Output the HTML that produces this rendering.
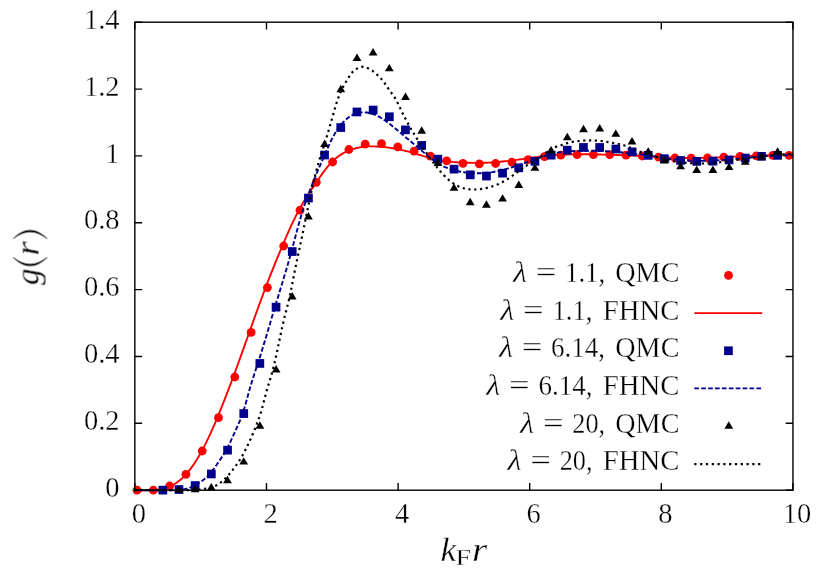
<!DOCTYPE html>
<html><head><meta charset="utf-8"><title>g(r)</title>
<style>html,body{margin:0;padding:0;background:#fff;}svg{display:block;}text{font-family:"Liberation Serif",serif;fill:#000;stroke:#fff;stroke-width:0.32px;}</style></head>
<body>
<svg width="830" height="582" viewBox="0 0 830 582">
<rect width="830" height="582" fill="#fff"/>
<path d="M134.8,490.2 v-7.3 M134.8,22.2 v7.3 M266.5,490.2 v-7.3 M266.5,22.2 v7.3 M398.1,490.2 v-7.3 M398.1,22.2 v7.3 M529.7,490.2 v-7.3 M529.7,22.2 v7.3 M661.3,490.2 v-7.3 M661.3,22.2 v7.3 M793.0,490.2 v-7.3 M793.0,22.2 v7.3 M134.85,490.2 h7.3 M792.95,490.2 h-7.3 M134.85,423.3 h7.3 M792.95,423.3 h-7.3 M134.85,356.5 h7.3 M792.95,356.5 h-7.3 M134.85,289.6 h7.3 M792.95,289.6 h-7.3 M134.85,222.8 h7.3 M792.95,222.8 h-7.3 M134.85,155.9 h7.3 M792.95,155.9 h-7.3 M134.85,89.1 h7.3 M792.95,89.1 h-7.3 M134.85,22.2 h7.3 M792.95,22.2 h-7.3" stroke="#000" stroke-width="1.4" fill="none"/>
<g><circle cx="137.0" cy="490.2" r="4.4" fill="#ff0000"/><circle cx="153.3" cy="490.2" r="4.4" fill="#ff0000"/><circle cx="169.6" cy="486.0" r="4.4" fill="#ff0000"/><circle cx="185.9" cy="474.3" r="4.4" fill="#ff0000"/><circle cx="202.2" cy="451.0" r="4.4" fill="#ff0000"/><circle cx="218.5" cy="417.7" r="4.4" fill="#ff0000"/><circle cx="234.8" cy="377.0" r="4.4" fill="#ff0000"/><circle cx="251.1" cy="332.4" r="4.4" fill="#ff0000"/><circle cx="267.4" cy="287.6" r="4.4" fill="#ff0000"/><circle cx="283.7" cy="246.0" r="4.4" fill="#ff0000"/><circle cx="300.0" cy="210.2" r="4.4" fill="#ff0000"/><circle cx="316.3" cy="182.3" r="4.4" fill="#ff0000"/><circle cx="332.6" cy="162.0" r="4.4" fill="#ff0000"/><circle cx="348.9" cy="149.5" r="4.4" fill="#ff0000"/><circle cx="365.2" cy="144.2" r="4.4" fill="#ff0000"/><circle cx="381.5" cy="143.7" r="4.4" fill="#ff0000"/><circle cx="397.8" cy="146.8" r="4.4" fill="#ff0000"/><circle cx="414.1" cy="151.1" r="4.4" fill="#ff0000"/><circle cx="430.4" cy="156.2" r="4.4" fill="#ff0000"/><circle cx="446.7" cy="160.8" r="4.4" fill="#ff0000"/><circle cx="463.0" cy="163.3" r="4.4" fill="#ff0000"/><circle cx="479.3" cy="163.9" r="4.4" fill="#ff0000"/><circle cx="495.6" cy="163.5" r="4.4" fill="#ff0000"/><circle cx="511.9" cy="162.1" r="4.4" fill="#ff0000"/><circle cx="528.2" cy="159.6" r="4.4" fill="#ff0000"/><circle cx="544.5" cy="156.7" r="4.4" fill="#ff0000"/><circle cx="560.8" cy="155.1" r="4.4" fill="#ff0000"/><circle cx="577.1" cy="154.6" r="4.4" fill="#ff0000"/><circle cx="593.4" cy="154.6" r="4.4" fill="#ff0000"/><circle cx="609.7" cy="154.6" r="4.4" fill="#ff0000"/><circle cx="626.0" cy="155.1" r="4.4" fill="#ff0000"/><circle cx="642.3" cy="156.0" r="4.4" fill="#ff0000"/><circle cx="658.6" cy="157.2" r="4.4" fill="#ff0000"/><circle cx="674.9" cy="158.0" r="4.4" fill="#ff0000"/><circle cx="691.2" cy="158.2" r="4.4" fill="#ff0000"/><circle cx="707.5" cy="158.0" r="4.4" fill="#ff0000"/><circle cx="723.8" cy="157.2" r="4.4" fill="#ff0000"/><circle cx="740.1" cy="156.3" r="4.4" fill="#ff0000"/><circle cx="756.4" cy="155.8" r="4.4" fill="#ff0000"/><circle cx="772.7" cy="155.3" r="4.4" fill="#ff0000"/><circle cx="789.0" cy="155.3" r="4.4" fill="#ff0000"/></g>
<path d="M134.5,490.2 L136.5,490.2 L138.5,490.2 L140.5,490.2 L142.5,490.2 L144.5,490.2 L146.5,490.2 L148.5,490.2 L150.5,490.2 L152.5,490.2 L154.5,490.1 L156.5,489.9 L158.5,489.6 L160.5,489.3 L162.5,488.9 L164.5,488.4 L166.5,487.8 L168.5,487.0 L170.5,486.2 L172.5,485.2 L174.5,484.0 L176.5,482.7 L178.5,481.3 L180.5,479.7 L182.5,477.9 L184.5,475.9 L186.5,473.7 L188.5,471.4 L190.5,468.8 L192.5,466.1 L194.5,463.2 L196.5,460.1 L198.5,456.8 L200.5,453.4 L202.5,449.7 L204.5,445.9 L206.5,441.8 L208.5,437.7 L210.5,433.3 L212.5,428.9 L214.5,424.3 L216.5,419.6 L218.5,414.8 L220.5,409.9 L222.5,404.9 L224.5,399.9 L226.5,394.7 L228.5,389.5 L230.5,384.2 L232.5,378.9 L234.5,373.5 L236.5,368.0 L238.5,362.5 L240.5,357.0 L242.5,351.4 L244.5,345.9 L246.5,340.3 L248.5,334.6 L250.5,329.0 L252.5,323.4 L254.5,317.8 L256.5,312.3 L258.5,306.8 L260.5,301.3 L262.5,295.9 L264.5,290.5 L266.5,285.2 L268.5,280.0 L270.5,274.9 L272.5,269.8 L274.5,264.9 L276.5,259.9 L278.5,255.1 L280.5,250.3 L282.5,245.5 L284.5,240.8 L286.5,236.2 L288.5,231.7 L290.5,227.2 L292.5,222.9 L294.5,218.8 L296.5,214.7 L298.5,210.9 L300.5,207.2 L302.5,203.7 L304.5,200.3 L306.5,197.1 L308.5,193.9 L310.5,190.9 L312.5,187.9 L314.5,184.9 L316.5,182.0 L318.5,179.0 L320.5,176.2 L322.5,173.4 L324.5,170.7 L326.5,168.1 L328.5,165.7 L330.5,163.5 L332.5,161.4 L334.5,159.6 L336.5,157.8 L338.5,156.3 L340.5,154.9 L342.5,153.6 L344.5,152.5 L346.5,151.6 L348.5,150.7 L350.5,149.9 L352.5,149.2 L354.5,148.6 L356.5,148.0 L358.5,147.6 L360.5,147.2 L362.5,146.9 L364.5,146.6 L366.5,146.5 L368.5,146.4 L370.5,146.4 L372.5,146.4 L374.5,146.4 L376.5,146.5 L378.5,146.6 L380.5,146.7 L382.5,146.9 L384.5,147.1 L386.5,147.3 L388.5,147.6 L390.5,147.9 L392.5,148.2 L394.5,148.5 L396.5,148.9 L398.5,149.3 L400.5,149.7 L402.5,150.2 L404.5,150.7 L406.5,151.1 L408.5,151.7 L410.5,152.2 L412.5,152.8 L414.5,153.4 L416.5,154.0 L418.5,154.6 L420.5,155.2 L422.5,155.8 L424.5,156.4 L426.5,157.0 L428.5,157.5 L430.5,158.1 L432.5,158.6 L434.5,159.1 L436.5,159.5 L438.5,159.9 L440.5,160.3 L442.5,160.7 L444.5,161.0 L446.5,161.2 L448.5,161.5 L450.5,161.7 L452.5,161.9 L454.5,162.1 L456.5,162.2 L458.5,162.4 L460.5,162.5 L462.5,162.6 L464.5,162.7 L466.5,162.8 L468.5,162.8 L470.5,162.8 L472.5,162.9 L474.5,162.9 L476.5,162.9 L478.5,162.9 L480.5,162.9 L482.5,162.8 L484.5,162.7 L486.5,162.7 L488.5,162.6 L490.5,162.5 L492.5,162.3 L494.5,162.2 L496.5,162.1 L498.5,161.9 L500.5,161.7 L502.5,161.5 L504.5,161.3 L506.5,161.1 L508.5,160.9 L510.5,160.6 L512.5,160.4 L514.5,160.1 L516.5,159.9 L518.5,159.6 L520.5,159.3 L522.5,159.1 L524.5,158.8 L526.5,158.5 L528.5,158.2 L530.5,157.9 L532.5,157.6 L534.5,157.3 L536.5,157.1 L538.5,156.8 L540.5,156.5 L542.5,156.3 L544.5,156.1 L546.5,155.9 L548.5,155.6 L550.5,155.5 L552.5,155.3 L554.5,155.1 L556.5,155.0 L558.5,154.9 L560.5,154.8 L562.5,154.7 L564.5,154.6 L566.5,154.5 L568.5,154.5 L570.5,154.4 L572.5,154.4 L574.5,154.3 L576.5,154.3 L578.5,154.3 L580.5,154.3 L582.5,154.3 L584.5,154.3 L586.5,154.3 L588.5,154.3 L590.5,154.3 L592.5,154.3 L594.5,154.4 L596.5,154.4 L598.5,154.5 L600.5,154.5 L602.5,154.6 L604.5,154.6 L606.5,154.7 L608.5,154.7 L610.5,154.8 L612.5,154.8 L614.5,154.9 L616.5,155.0 L618.5,155.0 L620.5,155.1 L622.5,155.2 L624.5,155.3 L626.5,155.3 L628.5,155.4 L630.5,155.5 L632.5,155.6 L634.5,155.6 L636.5,155.7 L638.5,155.8 L640.5,155.9 L642.5,156.0 L644.5,156.1 L646.5,156.3 L648.5,156.4 L650.5,156.5 L652.5,156.6 L654.5,156.7 L656.5,156.9 L658.5,157.0 L660.5,157.1 L662.5,157.2 L664.5,157.3 L666.5,157.4 L668.5,157.5 L670.5,157.6 L672.5,157.7 L674.5,157.8 L676.5,157.8 L678.5,157.9 L680.5,157.9 L682.5,158.0 L684.5,158.0 L686.5,158.0 L688.5,158.0 L690.5,158.0 L692.5,158.0 L694.5,158.0 L696.5,158.0 L698.5,158.0 L700.5,157.9 L702.5,157.9 L704.5,157.9 L706.5,157.8 L708.5,157.8 L710.5,157.7 L712.5,157.7 L714.5,157.6 L716.5,157.5 L718.5,157.4 L720.5,157.4 L722.5,157.3 L724.5,157.2 L726.5,157.0 L728.5,156.9 L730.5,156.8 L732.5,156.7 L734.5,156.6 L736.5,156.5 L738.5,156.4 L740.5,156.3 L742.5,156.2 L744.5,156.1 L746.5,156.1 L748.5,156.0 L750.5,155.9 L752.5,155.9 L754.5,155.8 L756.5,155.8 L758.5,155.7 L760.5,155.7 L762.5,155.6 L764.5,155.6 L766.5,155.5 L768.5,155.5 L770.5,155.4 L772.5,155.4 L774.5,155.4 L776.5,155.4 L778.5,155.4 L780.5,155.4 L782.5,155.4 L784.5,155.4 L786.5,155.4 L788.5,155.4 L790.5,155.5 L792.5,155.5" stroke="#ff0000" stroke-width="1.9" fill="none" stroke-linejoin="round"/>
<g><rect x="158.5" y="485.8" width="8.7" height="8.7" fill="#00008b"/><rect x="174.6" y="485.2" width="8.7" height="8.7" fill="#00008b"/><rect x="190.8" y="481.2" width="8.7" height="8.7" fill="#00008b"/><rect x="207.0" y="469.6" width="8.7" height="8.7" fill="#00008b"/><rect x="223.2" y="445.8" width="8.7" height="8.7" fill="#00008b"/><rect x="239.4" y="409.2" width="8.7" height="8.7" fill="#00008b"/><rect x="255.5" y="359.1" width="8.7" height="8.7" fill="#00008b"/><rect x="271.7" y="302.8" width="8.7" height="8.7" fill="#00008b"/><rect x="287.9" y="247.2" width="8.7" height="8.7" fill="#00008b"/><rect x="304.1" y="193.7" width="8.7" height="8.7" fill="#00008b"/><rect x="320.2" y="150.7" width="8.7" height="8.7" fill="#00008b"/><rect x="336.4" y="123.2" width="8.7" height="8.7" fill="#00008b"/><rect x="352.6" y="107.6" width="8.7" height="8.7" fill="#00008b"/><rect x="368.8" y="105.7" width="8.7" height="8.7" fill="#00008b"/><rect x="385.0" y="112.4" width="8.7" height="8.7" fill="#00008b"/><rect x="401.1" y="125.5" width="8.7" height="8.7" fill="#00008b"/><rect x="417.3" y="141.1" width="8.7" height="8.7" fill="#00008b"/><rect x="433.5" y="154.8" width="8.7" height="8.7" fill="#00008b"/><rect x="449.7" y="164.8" width="8.7" height="8.7" fill="#00008b"/><rect x="465.9" y="170.5" width="8.7" height="8.7" fill="#00008b"/><rect x="482.1" y="171.7" width="8.7" height="8.7" fill="#00008b"/><rect x="498.2" y="168.8" width="8.7" height="8.7" fill="#00008b"/><rect x="514.4" y="163.5" width="8.7" height="8.7" fill="#00008b"/><rect x="530.6" y="157.0" width="8.7" height="8.7" fill="#00008b"/><rect x="546.8" y="150.8" width="8.7" height="8.7" fill="#00008b"/><rect x="562.9" y="145.8" width="8.7" height="8.7" fill="#00008b"/><rect x="579.1" y="143.1" width="8.7" height="8.7" fill="#00008b"/><rect x="595.3" y="143.1" width="8.7" height="8.7" fill="#00008b"/><rect x="611.5" y="144.7" width="8.7" height="8.7" fill="#00008b"/><rect x="627.7" y="147.5" width="8.7" height="8.7" fill="#00008b"/><rect x="643.9" y="151.0" width="8.7" height="8.7" fill="#00008b"/><rect x="660.0" y="154.3" width="8.7" height="8.7" fill="#00008b"/><rect x="676.2" y="156.1" width="8.7" height="8.7" fill="#00008b"/><rect x="692.4" y="157.0" width="8.7" height="8.7" fill="#00008b"/><rect x="708.6" y="156.8" width="8.7" height="8.7" fill="#00008b"/><rect x="724.7" y="155.6" width="8.7" height="8.7" fill="#00008b"/><rect x="740.9" y="153.7" width="8.7" height="8.7" fill="#00008b"/><rect x="757.1" y="152.0" width="8.7" height="8.7" fill="#00008b"/><rect x="773.3" y="151.0" width="8.7" height="8.7" fill="#00008b"/></g>
<path d="M134.5,490.2 L136.5,490.2 L138.5,490.2 L140.5,490.2 L142.5,490.2 L144.5,490.2 L146.5,490.2 L148.5,490.2 L150.5,490.2 L152.5,490.2 L154.5,490.2 L156.5,490.2 L158.5,490.2 L160.5,490.2 L162.5,490.2 L164.5,490.2 L166.5,490.2 L168.5,490.2 L170.5,490.2 L172.5,490.2 L174.5,490.1 L176.5,490.1 L178.5,490.0 L180.5,489.8 L182.5,489.5 L184.5,489.2 L186.5,488.7 L188.5,488.1 L190.5,487.4 L192.5,486.6 L194.5,485.6 L196.5,484.5 L198.5,483.4 L200.5,482.0 L202.5,480.6 L204.5,479.0 L206.5,477.2 L208.5,475.2 L210.5,473.0 L212.5,470.6 L214.5,467.8 L216.5,465.0 L218.5,462.0 L220.5,459.1 L222.5,456.1 L224.5,453.0 L226.5,449.6 L228.5,445.8 L230.5,441.7 L232.5,437.3 L234.5,432.8 L236.5,428.4 L238.5,423.9 L240.5,419.3 L242.5,414.0 L244.5,407.8 L246.5,400.7 L248.5,393.3 L250.5,386.2 L252.5,379.7 L254.5,373.5 L256.5,367.4 L258.5,361.3 L260.5,355.1 L262.5,348.6 L264.5,342.1 L266.5,335.4 L268.5,328.7 L270.5,322.0 L272.5,315.2 L274.5,308.5 L276.5,301.9 L278.5,295.4 L280.5,288.8 L282.5,282.3 L284.5,275.6 L286.5,268.9 L288.5,262.0 L290.5,254.9 L292.5,247.6 L294.5,240.1 L296.5,232.5 L298.5,225.1 L300.5,218.0 L302.5,211.2 L304.5,205.0 L306.5,199.4 L308.5,194.0 L310.5,188.8 L312.5,183.6 L314.5,178.6 L316.5,173.7 L318.5,169.0 L320.5,164.5 L322.5,160.0 L324.5,155.5 L326.5,151.0 L328.5,146.4 L330.5,141.9 L332.5,137.8 L334.5,134.1 L336.5,130.8 L338.5,127.9 L340.5,125.3 L342.5,123.0 L344.5,120.9 L346.5,119.0 L348.5,117.4 L350.5,116.0 L352.5,114.9 L354.5,114.0 L356.5,113.3 L358.5,112.8 L360.5,112.5 L362.5,112.4 L364.5,112.4 L366.5,112.5 L368.5,112.8 L370.5,113.3 L372.5,113.8 L374.5,114.5 L376.5,115.4 L378.5,116.4 L380.5,117.5 L382.5,118.8 L384.5,120.1 L386.5,121.6 L388.5,123.1 L390.5,124.6 L392.5,126.2 L394.5,127.9 L396.5,129.5 L398.5,131.2 L400.5,132.8 L402.5,134.5 L404.5,136.2 L406.5,137.9 L408.5,139.5 L410.5,141.2 L412.5,142.9 L414.5,144.5 L416.5,146.2 L418.5,147.9 L420.5,149.6 L422.5,151.4 L424.5,153.1 L426.5,154.8 L428.5,156.5 L430.5,158.1 L432.5,159.6 L434.5,161.1 L436.5,162.5 L438.5,163.7 L440.5,164.9 L442.5,165.9 L444.5,166.9 L446.5,167.7 L448.5,168.5 L450.5,169.2 L452.5,169.9 L454.5,170.4 L456.5,170.9 L458.5,171.3 L460.5,171.7 L462.5,172.0 L464.5,172.3 L466.5,172.5 L468.5,172.7 L470.5,172.9 L472.5,173.0 L474.5,173.1 L476.5,173.2 L478.5,173.2 L480.5,173.2 L482.5,173.1 L484.5,173.0 L486.5,172.8 L488.5,172.6 L490.5,172.4 L492.5,172.1 L494.5,171.7 L496.5,171.3 L498.5,170.9 L500.5,170.5 L502.5,170.0 L504.5,169.5 L506.5,168.9 L508.5,168.3 L510.5,167.8 L512.5,167.1 L514.5,166.5 L516.5,165.9 L518.5,165.2 L520.5,164.5 L522.5,163.9 L524.5,163.2 L526.5,162.5 L528.5,161.7 L530.5,161.0 L532.5,160.3 L534.5,159.5 L536.5,158.8 L538.5,158.0 L540.5,157.3 L542.5,156.6 L544.5,156.0 L546.5,155.3 L548.5,154.7 L550.5,154.2 L552.5,153.7 L554.5,153.2 L556.5,152.8 L558.5,152.5 L560.5,152.1 L562.5,151.9 L564.5,151.7 L566.5,151.5 L568.5,151.3 L570.5,151.2 L572.5,151.1 L574.5,151.0 L576.5,150.9 L578.5,150.9 L580.5,150.8 L582.5,150.7 L584.5,150.7 L586.5,150.7 L588.5,150.7 L590.5,150.7 L592.5,150.7 L594.5,150.8 L596.5,150.8 L598.5,150.9 L600.5,151.0 L602.5,151.1 L604.5,151.2 L606.5,151.3 L608.5,151.4 L610.5,151.5 L612.5,151.6 L614.5,151.8 L616.5,151.9 L618.5,152.1 L620.5,152.3 L622.5,152.5 L624.5,152.7 L626.5,153.0 L628.5,153.2 L630.5,153.4 L632.5,153.7 L634.5,153.9 L636.5,154.0 L638.5,154.2 L640.5,154.4 L642.5,154.6 L644.5,154.8 L646.5,155.1 L648.5,155.3 L650.5,155.7 L652.5,156.0 L654.5,156.4 L656.5,156.8 L658.5,157.2 L660.5,157.5 L662.5,157.9 L664.5,158.2 L666.5,158.5 L668.5,158.8 L670.5,159.1 L672.5,159.3 L674.5,159.5 L676.5,159.7 L678.5,159.8 L680.5,160.0 L682.5,160.1 L684.5,160.3 L686.5,160.4 L688.5,160.5 L690.5,160.6 L692.5,160.7 L694.5,160.7 L696.5,160.8 L698.5,160.8 L700.5,160.9 L702.5,160.9 L704.5,160.8 L706.5,160.8 L708.5,160.8 L710.5,160.7 L712.5,160.6 L714.5,160.5 L716.5,160.4 L718.5,160.3 L720.5,160.2 L722.5,160.0 L724.5,159.9 L726.5,159.7 L728.5,159.5 L730.5,159.4 L732.5,159.2 L734.5,159.0 L736.5,158.8 L738.5,158.6 L740.5,158.4 L742.5,158.3 L744.5,158.1 L746.5,157.9 L748.5,157.7 L750.5,157.5 L752.5,157.3 L754.5,157.1 L756.5,156.9 L758.5,156.7 L760.5,156.6 L762.5,156.4 L764.5,156.3 L766.5,156.1 L768.5,156.0 L770.5,155.8 L772.5,155.7 L774.5,155.6 L776.5,155.5 L778.5,155.5 L780.5,155.4 L782.5,155.4 L784.5,155.3 L786.5,155.3 L788.5,155.3 L790.5,155.3 L792.5,155.3" stroke="#00008b" stroke-width="1.9" fill="none" stroke-dasharray="4.7 2.2"/>
<g><path d="M179.0,485.4 L183.4,492.8 L174.6,492.8Z" fill="#000"/><path d="M195.2,484.8 L199.6,492.2 L190.8,492.2Z" fill="#000"/><path d="M211.3,483.1 L215.7,490.5 L206.9,490.5Z" fill="#000"/><path d="M227.5,475.8 L231.9,483.2 L223.1,483.2Z" fill="#000"/><path d="M243.7,457.2 L248.1,464.6 L239.3,464.6Z" fill="#000"/><path d="M259.9,421.3 L264.3,428.7 L255.5,428.7Z" fill="#000"/><path d="M276.1,365.1 L280.5,372.5 L271.7,372.5Z" fill="#000"/><path d="M292.2,292.1 L296.6,299.5 L287.8,299.5Z" fill="#000"/><path d="M308.4,212.1 L312.8,219.5 L304.0,219.5Z" fill="#000"/><path d="M324.6,139.6 L329.0,147.0 L320.2,147.0Z" fill="#000"/><path d="M340.8,84.8 L345.2,92.2 L336.4,92.2Z" fill="#000"/><path d="M357.0,53.5 L361.4,60.9 L352.6,60.9Z" fill="#000"/><path d="M373.1,48.0 L377.5,55.4 L368.7,55.4Z" fill="#000"/><path d="M389.3,63.9 L393.7,71.3 L384.9,71.3Z" fill="#000"/><path d="M405.5,92.5 L409.9,99.9 L401.1,99.9Z" fill="#000"/><path d="M421.7,126.3 L426.1,133.7 L417.3,133.7Z" fill="#000"/><path d="M437.9,158.5 L442.3,165.9 L433.5,165.9Z" fill="#000"/><path d="M454.0,183.4 L458.4,190.8 L449.6,190.8Z" fill="#000"/><path d="M470.2,197.8 L474.6,205.2 L465.8,205.2Z" fill="#000"/><path d="M486.4,200.3 L490.8,207.7 L482.0,207.7Z" fill="#000"/><path d="M502.6,194.2 L507.0,201.6 L498.2,201.6Z" fill="#000"/><path d="M518.8,180.5 L523.2,187.9 L514.4,187.9Z" fill="#000"/><path d="M534.9,163.4 L539.3,170.8 L530.5,170.8Z" fill="#000"/><path d="M551.1,146.0 L555.5,153.4 L546.7,153.4Z" fill="#000"/><path d="M567.3,132.8 L571.7,140.2 L562.9,140.2Z" fill="#000"/><path d="M583.5,124.8 L587.9,132.2 L579.1,132.2Z" fill="#000"/><path d="M599.7,124.1 L604.1,131.5 L595.3,131.5Z" fill="#000"/><path d="M615.8,129.4 L620.2,136.8 L611.4,136.8Z" fill="#000"/><path d="M632.0,137.1 L636.4,144.5 L627.6,144.5Z" fill="#000"/><path d="M648.2,147.2 L652.6,154.6 L643.8,154.6Z" fill="#000"/><path d="M664.4,156.2 L668.8,163.6 L660.0,163.6Z" fill="#000"/><path d="M680.6,161.9 L685.0,169.3 L676.2,169.3Z" fill="#000"/><path d="M696.7,165.6 L701.1,173.0 L692.3,173.0Z" fill="#000"/><path d="M712.9,165.6 L717.3,173.0 L708.5,173.0Z" fill="#000"/><path d="M729.1,162.7 L733.5,170.1 L724.7,170.1Z" fill="#000"/><path d="M745.3,157.4 L749.7,164.8 L740.9,164.8Z" fill="#000"/><path d="M761.5,152.1 L765.9,159.5 L757.1,159.5Z" fill="#000"/><path d="M777.6,147.2 L782.0,154.6 L773.2,154.6Z" fill="#000"/></g>
<path d="M134.5,490.2 L136.5,490.2 L138.5,490.2 L140.5,490.2 L142.5,490.2 L144.5,490.2 L146.5,490.1 L148.5,490.1 L150.5,490.1 L152.5,490.1 L154.5,490.1 L156.5,490.1 L158.5,490.1 L160.5,490.1 L162.5,490.1 L164.5,490.1 L166.5,490.1 L168.5,490.1 L170.5,490.1 L172.5,490.1 L174.5,490.1 L176.5,490.1 L178.5,490.1 L180.5,490.2 L182.5,490.2 L184.5,490.2 L186.5,490.2 L188.5,490.2 L190.5,490.2 L192.5,490.2 L194.5,490.1 L196.5,489.9 L198.5,489.7 L200.5,489.4 L202.5,489.1 L204.5,488.8 L206.5,488.4 L208.5,488.1 L210.5,487.6 L212.5,487.0 L214.5,486.3 L216.5,485.3 L218.5,484.0 L220.5,482.6 L222.5,481.0 L224.5,479.2 L226.5,477.2 L228.5,475.1 L230.5,472.7 L232.5,470.2 L234.5,467.5 L236.5,464.8 L238.5,461.9 L240.5,458.8 L242.5,455.4 L244.5,451.7 L246.5,447.8 L248.5,443.6 L250.5,439.3 L252.5,434.7 L254.5,429.9 L256.5,424.8 L258.5,419.5 L260.5,413.5 L262.5,406.6 L264.5,399.0 L266.5,391.4 L268.5,384.6 L270.5,378.1 L272.5,371.2 L274.5,363.2 L276.5,354.2 L278.5,344.6 L280.5,335.0 L282.5,325.8 L284.5,317.3 L286.5,309.6 L288.5,301.7 L290.5,292.7 L292.5,282.7 L294.5,272.4 L296.5,262.5 L298.5,253.1 L300.5,243.8 L302.5,234.2 L304.5,224.5 L306.5,214.7 L308.5,205.0 L310.5,195.5 L312.5,186.4 L314.5,177.8 L316.5,170.0 L318.5,162.9 L320.5,156.4 L322.5,150.2 L324.5,144.0 L326.5,137.6 L328.5,130.9 L330.5,123.9 L332.5,116.8 L334.5,109.8 L336.5,103.2 L338.5,97.3 L340.5,92.2 L342.5,88.0 L344.5,84.4 L346.5,81.0 L348.5,77.7 L350.5,74.5 L352.5,72.0 L354.5,70.2 L356.5,68.9 L358.5,67.8 L360.5,67.0 L362.5,66.7 L364.5,66.9 L366.5,67.6 L368.5,68.5 L370.5,69.6 L372.5,70.8 L374.5,72.3 L376.5,74.1 L378.5,76.0 L380.5,78.0 L382.5,80.3 L384.5,83.0 L386.5,85.9 L388.5,88.8 L390.5,91.7 L392.5,94.4 L394.5,97.2 L396.5,100.6 L398.5,104.6 L400.5,108.9 L402.5,113.0 L404.5,117.0 L406.5,120.8 L408.5,124.4 L410.5,128.0 L412.5,131.4 L414.5,134.7 L416.5,137.9 L418.5,141.1 L420.5,144.2 L422.5,147.2 L424.5,150.2 L426.5,153.1 L428.5,156.0 L430.5,158.8 L432.5,161.5 L434.5,164.1 L436.5,166.7 L438.5,169.2 L440.5,171.6 L442.5,173.8 L444.5,175.9 L446.5,177.9 L448.5,179.7 L450.5,181.3 L452.5,182.8 L454.5,184.2 L456.5,185.3 L458.5,186.4 L460.5,187.2 L462.5,187.9 L464.5,188.5 L466.5,188.9 L468.5,189.2 L470.5,189.4 L472.5,189.5 L474.5,189.5 L476.5,189.5 L478.5,189.3 L480.5,189.1 L482.5,188.8 L484.5,188.5 L486.5,188.0 L488.5,187.5 L490.5,187.0 L492.5,186.3 L494.5,185.6 L496.5,184.8 L498.5,184.0 L500.5,183.0 L502.5,182.0 L504.5,180.9 L506.5,179.7 L508.5,178.5 L510.5,177.1 L512.5,175.7 L514.5,174.2 L516.5,172.8 L518.5,171.3 L520.5,169.8 L522.5,168.3 L524.5,166.9 L526.5,165.6 L528.5,164.3 L530.5,163.1 L532.5,161.9 L534.5,160.7 L536.5,159.5 L538.5,158.3 L540.5,156.9 L542.5,155.4 L544.5,153.8 L546.5,152.2 L548.5,150.7 L550.5,149.3 L552.5,148.2 L554.5,147.3 L556.5,146.6 L558.5,146.0 L560.5,145.4 L562.5,144.7 L564.5,144.1 L566.5,143.4 L568.5,142.8 L570.5,142.3 L572.5,141.9 L574.5,141.6 L576.5,141.3 L578.5,141.1 L580.5,140.9 L582.5,140.7 L584.5,140.5 L586.5,140.4 L588.5,140.4 L590.5,140.4 L592.5,140.4 L594.5,140.5 L596.5,140.6 L598.5,140.8 L600.5,141.0 L602.5,141.2 L604.5,141.5 L606.5,141.8 L608.5,142.1 L610.5,142.5 L612.5,142.9 L614.5,143.3 L616.5,143.7 L618.5,144.0 L620.5,144.5 L622.5,144.9 L624.5,145.5 L626.5,146.1 L628.5,146.9 L630.5,147.8 L632.5,148.7 L634.5,149.6 L636.5,150.4 L638.5,151.2 L640.5,151.9 L642.5,152.7 L644.5,153.4 L646.5,154.0 L648.5,154.7 L650.5,155.3 L652.5,156.0 L654.5,156.6 L656.5,157.1 L658.5,157.7 L660.5,158.2 L662.5,158.8 L664.5,159.2 L666.5,159.7 L668.5,160.2 L670.5,160.6 L672.5,161.0 L674.5,161.3 L676.5,161.7 L678.5,162.0 L680.5,162.3 L682.5,162.5 L684.5,162.7 L686.5,162.9 L688.5,163.1 L690.5,163.2 L692.5,163.4 L694.5,163.4 L696.5,163.5 L698.5,163.5 L700.5,163.5 L702.5,163.5 L704.5,163.5 L706.5,163.4 L708.5,163.3 L710.5,163.2 L712.5,163.0 L714.5,162.9 L716.5,162.7 L718.5,162.4 L720.5,162.2 L722.5,162.0 L724.5,161.7 L726.5,161.4 L728.5,161.2 L730.5,160.9 L732.5,160.6 L734.5,160.3 L736.5,160.0 L738.5,159.7 L740.5,159.4 L742.5,159.1 L744.5,158.8 L746.5,158.5 L748.5,158.2 L750.5,157.9 L752.5,157.6 L754.5,157.3 L756.5,157.0 L758.5,156.7 L760.5,156.4 L762.5,156.2 L764.5,155.9 L766.5,155.7 L768.5,155.4 L770.5,155.2 L772.5,155.0 L774.5,154.8 L776.5,154.7 L778.5,154.5 L780.5,154.4 L782.5,154.3 L784.5,154.2 L786.5,154.1 L788.5,154.0 L790.5,154.0 L792.5,153.9" stroke="#000" stroke-width="2.2" fill="none" stroke-dasharray="2.2 3.6"/>
<rect x="134.85" y="22.2" width="658.1" height="468.0" fill="none" stroke="#000" stroke-width="1.4"/>
<g style="filter:grayscale(1)">
<text x="119.5" y="496.8" font-size="28.5" text-anchor="end">0</text><text x="119.5" y="429.9" font-size="28.5" text-anchor="end">0.2</text><text x="119.5" y="363.1" font-size="28.5" text-anchor="end">0.4</text><text x="119.5" y="296.2" font-size="28.5" text-anchor="end">0.6</text><text x="119.5" y="229.4" font-size="28.5" text-anchor="end">0.8</text><text x="119.5" y="162.5" font-size="28.5" text-anchor="end">1</text><text x="119.5" y="95.7" font-size="28.5" text-anchor="end">1.2</text><text x="119.5" y="28.8" font-size="28.5" text-anchor="end">1.4</text>
<text x="138.8" y="522.5" font-size="28.5" text-anchor="middle">0</text><text x="270.5" y="522.5" font-size="28.5" text-anchor="middle">2</text><text x="402.1" y="522.5" font-size="28.5" text-anchor="middle">4</text><text x="533.7" y="522.5" font-size="28.5" text-anchor="middle">6</text><text x="665.3" y="522.5" font-size="28.5" text-anchor="middle">8</text><text x="797.0" y="522.5" font-size="28.5" text-anchor="middle">10</text>
<text x="440.6" y="560.5" font-size="33" font-style="italic" textLength="15.8" lengthAdjust="spacingAndGlyphs">k</text><text x="455.6" y="565.3" font-size="22.5" textLength="15.6" lengthAdjust="spacingAndGlyphs">F</text><text x="472.0" y="560.5" font-size="33" font-style="italic" textLength="15.2" lengthAdjust="spacingAndGlyphs">r</text>
<g transform="translate(38.7,284.5) rotate(-90)"><text x="-0.5" y="0" font-size="33" font-style="italic">g</text><text x="29" y="0" font-size="33" font-style="italic" textLength="14.2" lengthAdjust="spacingAndGlyphs">r</text><path d="M26.7,-25.4 Q10.1,-8.5 26.7,8.4 L27.5,8.4 Q13.5,-8.5 27.5,-25.4 Z"/><path d="M46.2,-25.4 Q62.8,-8.5 46.2,8.4 L45.4,8.4 Q59.4,-8.5 45.4,-25.4 Z"/></g>
<text x="512.9" y="282.1" font-size="28.5" textLength="14.1" lengthAdjust="spacingAndGlyphs" font-style="italic">λ</text><text x="535.7" y="282.1" font-size="28.5" textLength="20.7" lengthAdjust="spacingAndGlyphs">=</text><text x="565.1" y="282.1" font-size="28.5" textLength="40.0" lengthAdjust="spacingAndGlyphs">1.1,</text><text x="615.3" y="282.1" font-size="28.5" textLength="64.1" lengthAdjust="spacingAndGlyphs">QMC</text>
<text x="500.3" y="319.8" font-size="28.5" textLength="14.1" lengthAdjust="spacingAndGlyphs" font-style="italic">λ</text><text x="523.1" y="319.8" font-size="28.5" textLength="20.7" lengthAdjust="spacingAndGlyphs">=</text><text x="552.5" y="319.8" font-size="28.5" textLength="40.0" lengthAdjust="spacingAndGlyphs">1.1,</text><text x="602.7" y="319.8" font-size="28.5" textLength="76.7" lengthAdjust="spacingAndGlyphs">FHNC</text>
<text x="498.9" y="357.4" font-size="28.5" textLength="14.1" lengthAdjust="spacingAndGlyphs" font-style="italic">λ</text><text x="521.7" y="357.4" font-size="28.5" textLength="20.7" lengthAdjust="spacingAndGlyphs">=</text><text x="551.1" y="357.4" font-size="28.5" textLength="54.0" lengthAdjust="spacingAndGlyphs">6.14,</text><text x="615.3" y="357.4" font-size="28.5" textLength="64.1" lengthAdjust="spacingAndGlyphs">QMC</text>
<text x="486.3" y="395.1" font-size="28.5" textLength="14.1" lengthAdjust="spacingAndGlyphs" font-style="italic">λ</text><text x="509.1" y="395.1" font-size="28.5" textLength="20.7" lengthAdjust="spacingAndGlyphs">=</text><text x="538.5" y="395.1" font-size="28.5" textLength="54.0" lengthAdjust="spacingAndGlyphs">6.14,</text><text x="602.7" y="395.1" font-size="28.5" textLength="76.7" lengthAdjust="spacingAndGlyphs">FHNC</text>
<text x="520.1" y="432.7" font-size="28.5" textLength="14.1" lengthAdjust="spacingAndGlyphs" font-style="italic">λ</text><text x="542.9" y="432.7" font-size="28.5" textLength="20.7" lengthAdjust="spacingAndGlyphs">=</text><text x="572.3" y="432.7" font-size="28.5" textLength="32.8" lengthAdjust="spacingAndGlyphs">20,</text><text x="615.3" y="432.7" font-size="28.5" textLength="64.1" lengthAdjust="spacingAndGlyphs">QMC</text>
<text x="507.5" y="470.4" font-size="28.5" textLength="14.1" lengthAdjust="spacingAndGlyphs" font-style="italic">λ</text><text x="530.3" y="470.4" font-size="28.5" textLength="20.7" lengthAdjust="spacingAndGlyphs">=</text><text x="559.7" y="470.4" font-size="28.5" textLength="32.8" lengthAdjust="spacingAndGlyphs">20,</text><text x="602.7" y="470.4" font-size="28.5" textLength="76.7" lengthAdjust="spacingAndGlyphs">FHNC</text>
</g>
<circle cx="728.5" cy="275.4" r="4.4" fill="#ff0000"/><path d="M694.3,313.1 H762.2" stroke="#ff0000" stroke-width="1.9"/><rect x="724.1" y="346.4" width="8.7" height="8.7" fill="#00008b"/><path d="M694.3,388.4 H762.2" stroke="#00008b" stroke-width="1.9" stroke-dasharray="4.7 2.2"/><path d="M728.8,421.3 L733.2,428.7 L724.4,428.7Z" fill="#000"/><path d="M694.3,464.1 H762.2" stroke="#000" stroke-width="2.2" stroke-dasharray="2.2 3.6"/>
</svg>
</body></html>
